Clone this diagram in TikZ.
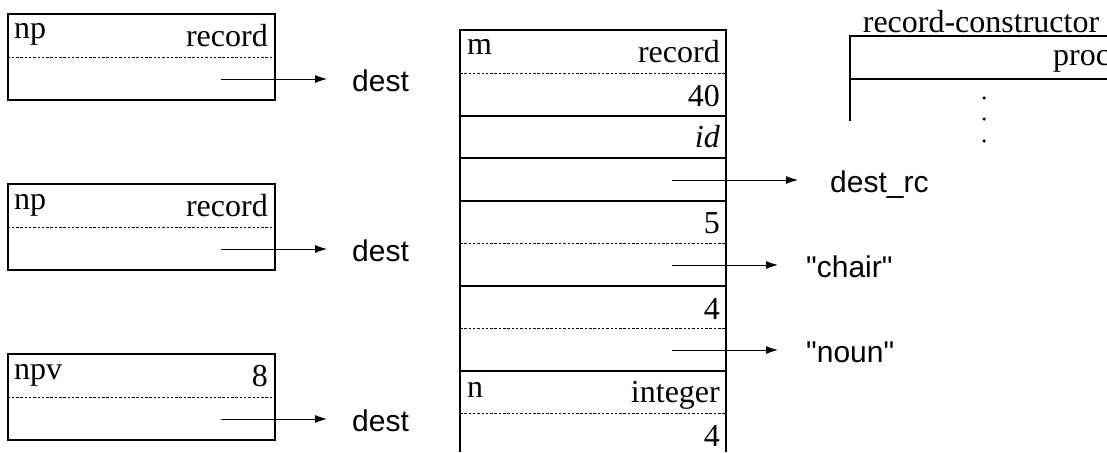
\documentclass[tikz,border=0pt]{standalone}
\usepackage{fontspec}
\setmainfont{Liberation Serif}
\setsansfont{Liberation Sans}
\newfontfamily\qsans{Liberation Sans}
\usetikzlibrary{arrows.meta}
\begin{document}
\begin{tikzpicture}[x=1pt,y=-1pt,
  varbox/.style={draw, line width=1.2pt, minimum width=267pt, minimum height=86pt, inner sep=0pt},
  sep/.style={line width=1.6pt},
  side/.style={line width=1.2pt},
  dsep/.style={line width=0.8pt, dash pattern=on 2.5pt off 1.8pt},
  ptr/.style={line width=1pt, -{Latex[length=12pt,width=8pt]}},
  lab/.style={font=\fontsize{32}{36}\selectfont, inner sep=0pt},
  labl/.style={lab, anchor=base west},
  labr/.style={lab, anchor=base east},
  slab/.style={font=\qsans\fontsize{30}{34}\selectfont, inner sep=0pt, anchor=base west},
  dot/.style={fill, circle, inner sep=0pt, minimum size=3.5pt},
]
\useasboundingbox (0,0) rectangle (1107,452);

% ---------- left boxes ----------
\foreach \i/\nm/\ty [count=\k] in {0/np/record, 170/np/record, 340/npv/8} {
  \node[varbox] (b\k) at (141.5,57+\i) {};
  \draw[dsep] (b\k.west |- 0,57.3+\i) -- (b\k.east |- 0,57.3+\i);
  \node[labl] (bn\k) at (14,39+\i) {\nm};
  \node[labr] (bt\k) at (268,46.5+\i) {\ty};
  \coordinate (s\k) at (221,79+\i);
  \coordinate (e\k) at (327,79+\i);
  \node[slab] (d\k) at (352,91+\i) {dest};
  \draw[ptr] (s\k) -- (e\k);
}

% ---------- middle column ----------
\draw[side] (460,452) -- (460,30) -- (726,30) -- (726,452);
\foreach \y in {116,158,201,286,371} \draw[sep] (460,\y) -- (726,\y);
\foreach \y in {73,243,328,413} \draw[dsep] (460,\y) -- (726,\y);

\node[labl] (m) at (467,55) {m};
\node[labr] (mt) at (720,63) {record};
\node[labr] (v40) at (720,106.5) {40};
\node[labr] (vid) at (720,147) {\itshape id};
\node[labr] (v5) at (720,233) {5};
\node[labr] (v4) at (720,319) {4};
\node[labl] (n) at (467,397) {n};
\node[labr] (nt) at (720,402) {integer};
\node[labr] (nv) at (720,446) {4};

\coordinate (ms1) at (672,180);  \coordinate (me1) at (798,180);
\coordinate (ms2) at (672,265);  \coordinate (me2) at (778,265);
\coordinate (ms3) at (672,350);  \coordinate (me3) at (778,350);
\draw[ptr] (ms1) -- (me1);
\draw[ptr] (ms2) -- (me2);
\draw[ptr] (ms3) -- (me3);
\node[slab] (drc) at (830,192) {dest\_rc};
\node[slab] (chair) at (806,277) {"chair"};
\node[slab] (noun) at (806,362) {"noun"};

% ---------- record-constructor ----------
\node[lab, anchor=base] (rc) at (981,33) {record-constructor};
\draw[side] (850,121) -- (850,36) -- (1112,36);
\draw[sep] (850,79) -- (1112,79);
\node[labl] (proc) at (1053,65) {proc};
\node[dot] (p1) at (984,98) {};
\node[dot] (p2) at (984,119) {};
\node[dot] (p3) at (984,141) {};
\end{tikzpicture}
\end{document}
